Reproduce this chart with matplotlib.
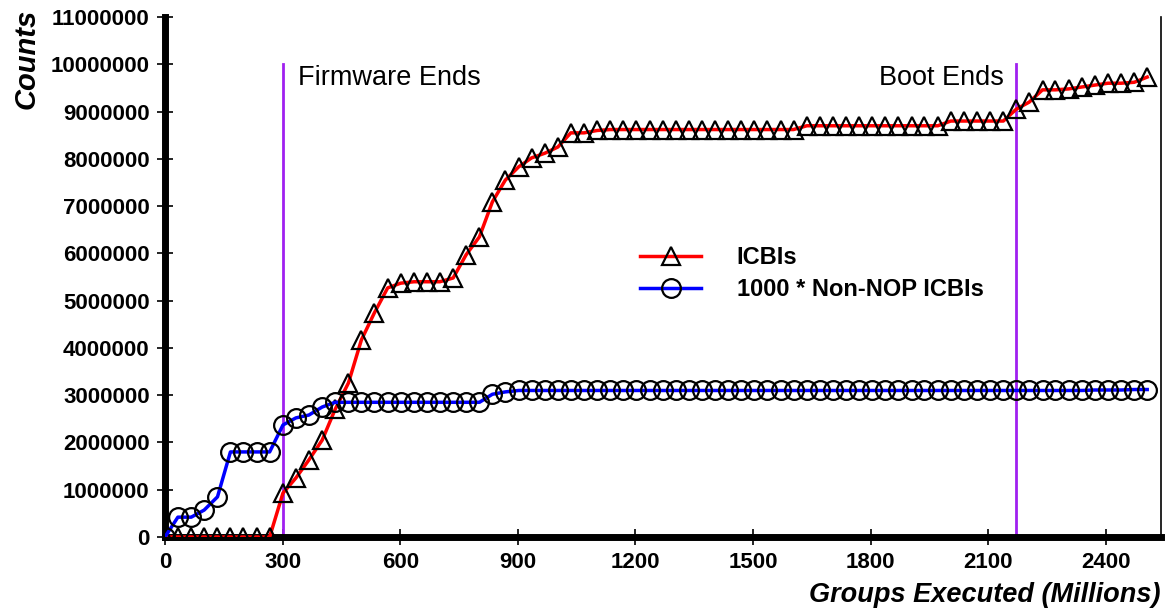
import matplotlib
matplotlib.use("Agg")
import matplotlib.pyplot as plt

plt.rcParams['font.family'] = ['Liberation Sans', 'DejaVu Sans']

#####
# Data, counts in millions
groups = [0, 33, 67, 100, 134, 167, 200, 234, 267, 301, 334, 367, 401, 434, 468,
          501, 534, 568, 601, 635, 668, 701, 735, 768, 802, 835, 868, 902, 935,
          969, 1002, 1035, 1069, 1102, 1136, 1169, 1202, 1236, 1269, 1303, 1336,
          1369, 1403, 1436, 1470, 1503, 1536, 1570, 1603, 1637, 1670, 1703, 1737,
          1770, 1804, 1837, 1870, 1904, 1937, 1971, 2004, 2037, 2071, 2104, 2138,
          2171, 2204, 2238, 2271, 2305, 2338, 2371, 2405, 2438, 2472, 2505]

icbis_m = [0, 0, 0, 0, 0, 0, 0, 0, 0,
           0.93, 1.25, 1.63, 2.05, 2.70, 3.26, 4.17, 4.74, 5.27, 5.37, 5.40,
           5.40, 5.40, 5.48, 5.97, 6.35, 7.09, 7.55, 7.83, 8.02, 8.12, 8.25,
           8.55, 8.55, 8.60,
           8.62, 8.62, 8.62, 8.62, 8.62, 8.62, 8.62, 8.62, 8.62, 8.62, 8.62,
           8.62, 8.62, 8.62, 8.62,
           8.70, 8.70, 8.70, 8.70, 8.70, 8.70, 8.70, 8.70, 8.70, 8.70, 8.70,
           8.80, 8.80, 8.80, 8.80, 8.80,
           9.05, 9.20, 9.46, 9.46, 9.48, 9.52, 9.56, 9.60, 9.60, 9.62, 9.73]

nonnop_m = [0, 0.42, 0.42, 0.57, 0.85, 1.80, 1.80, 1.80, 1.80, 2.37, 2.52, 2.58,
            2.75, 2.85,
            2.85, 2.85, 2.85, 2.85, 2.85, 2.85, 2.85, 2.85, 2.85, 2.85, 2.85,
            3.02, 3.07,
            3.10, 3.10, 3.10, 3.10, 3.10, 3.10, 3.10, 3.10, 3.10, 3.10, 3.10,
            3.10, 3.10, 3.10, 3.10, 3.10, 3.10, 3.10, 3.10, 3.10, 3.10, 3.10,
            3.10, 3.10, 3.10, 3.10, 3.10, 3.10, 3.10, 3.10, 3.10, 3.10, 3.10,
            3.10, 3.10, 3.10, 3.10, 3.10, 3.10, 3.10, 3.10, 3.10, 3.10, 3.10,
            3.11, 3.11, 3.11, 3.12, 3.12]

icbis = [v * 1e6 for v in icbis_m]
nonnop = [v * 1e6 for v in nonnop_m]

# (x position, text, side of the line the text sits on)
markers_at = [(300, 'Firmware Ends', 'left'), (2170, 'Boot Ends', 'right')]
yticks = [i * 1000000 for i in range(12)]
xticks = [0, 300, 600, 900, 1200, 1500, 1800, 2100, 2400]

#####
# Plot
fig = plt.figure(figsize=(11.69, 6.15), dpi=100)
ax = fig.add_axes([0.1411, 0.1268, 0.852, 0.8455])

ax.plot(groups, icbis, color='red', lw=2.5, marker='^', ms=13.5,
        mfc='none', mec='black', mew=1.6, label='ICBIs', zorder=3)
ax.plot(groups, nonnop, color='blue', lw=2.5, marker='o', ms=13.5,
        mfc='none', mec='black', mew=1.6, label='1000 * Non-NOP ICBIs', zorder=3)

for xv, txt, side in markers_at:
    ax.plot([xv, xv], [0, 1e7], color='#a020f0', lw=2, zorder=2)
    off = 40 if side == 'left' else -30
    ax.text(xv + off, 9.7e6, txt, fontsize=19.5, va='center', ha=side)

ax.set_xlim(0, 2540)
ax.set_ylim(0, 11e6)
ax.set_xticks(xticks)
ax.set_yticks(yticks)
ax.set_yticklabels([str(v) for v in yticks])
ax.tick_params(axis='both', direction='inout', length=12, width=1.2,
               labelsize=16, pad=5)
for lab in ax.get_xticklabels() + ax.get_yticklabels():
    lab.set_fontweight('bold')

ax.spines['top'].set_visible(False)
ax.spines['left'].set_linewidth(5)
ax.spines['bottom'].set_linewidth(5)
ax.spines['right'].set_linewidth(1.2)

leg = ax.legend(loc='upper left', bbox_to_anchor=(0.477, 0.56), frameon=False,
                handlelength=2.6, handletextpad=1.5, labelspacing=0.4,
                borderaxespad=0, borderpad=0,
                prop={'weight': 'bold', 'size': 17})

fig.text(0.993, 0.032, 'Groups Executed (Millions)', ha='right', va='center',
         fontsize=19.5, fontweight='bold', fontstyle='italic')
fig.text(0.023, 0.985, 'Counts', ha='center', va='top', rotation=90,
         fontsize=21, fontweight='bold', fontstyle='italic')

fig.savefig('out.png', dpi=100)
